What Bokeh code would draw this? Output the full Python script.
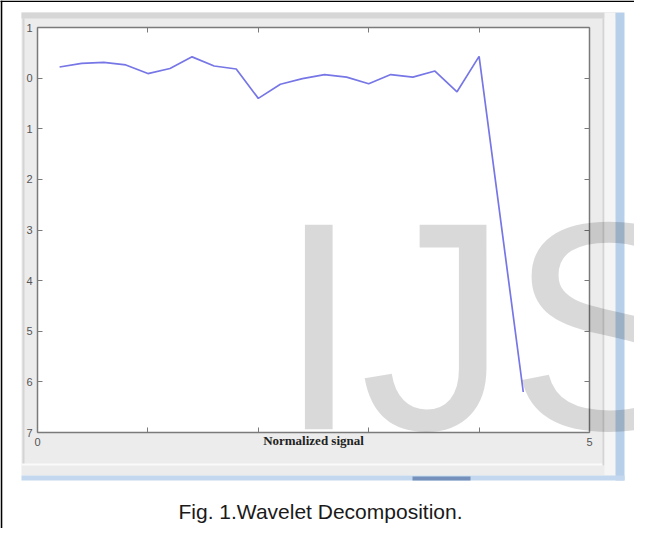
from bokeh.plotting import figure
from bokeh.models import FixedTicker, LinearAxis, Label, Range1d
from bokeh.embed import file_html
from bokeh.resources import INLINE

# ---- data ----
x_vals = [0.2, 0.4, 0.6, 0.8, 1.0, 1.2, 1.4, 1.6, 1.8, 2.0, 2.2,
          2.4, 2.6, 2.8, 3.0, 3.2, 3.4, 3.6, 3.8, 4.0, 4.4]
signal = [0.22, 0.29, 0.31, 0.26, 0.09, 0.19, 0.42, 0.24, 0.18, -0.40, -0.12,
          -0.01, 0.07, 0.02, -0.11, 0.07, 0.02, 0.14, -0.27, 0.43, -6.2]
x_ticks = [0, 1, 2, 3, 4, 5]
x_tick_labels = ["0", "", "", "", "", "5"]
y_ticks = [1, 0, -1, -2, -3, -4, -5, -6, -7]
y_tick_labels = ["1", "0", "1", "2", "3", "4", "5", "6", "7"]
x_title = "Normalized signal"
caption = "Fig. 1.Wavelet Decomposition."
watermark = "IJS"

# ---- layout (canvas pixels, y downwards) ----
W, H = 634, 528
OFF = 8                              # page margin: reference px - OFF = canvas px
FL, FT, FR, FB = 37, 27, 589, 432    # inner plot box on the canvas
AX = "#7a7a7a"
BASE_FIX = 0.375                     # baseline correction (fraction of font size)

x0, x1 = min(x_ticks), max(x_ticks)
y0, y1 = min(y_ticks), max(y_ticks)
sx = (FR - FL) / (x1 - x0)
sy = (FB - FT) / (y1 - y0)

p = figure(width=W, height=H, output_backend="svg", toolbar_location=None,
           x_range=Range1d(0, W), y_range=Range1d(H, 0),
           x_axis_type=None, y_axis_type=None,
           min_border=0, min_border_left=0, min_border_right=0,
           min_border_top=0, min_border_bottom=0,
           border_fill_color="white", background_fill_color="white",
           outline_line_color=None)
p.grid.visible = False
p.extra_x_ranges = {"sig": Range1d(x0 - FL / sx, x1 + (W - FR) / sx)}
p.extra_y_ranges = {"sig": Range1d(y0 - (H - FB) / sy, y1 + FT / sy)}


# ---- window decorations (reference pixel coords) ----
def ref_box(a, b, c, d, color):
    p.quad(left=[a - OFF], right=[c - OFF], top=[b - OFF], bottom=[d - OFF],
           fill_color=color, line_color=None)


ref_box(29, 20, 623, 483, "#ececec")      # window body
ref_box(29, 20, 623, 26, "#d6d6d6")       # top band
ref_box(30, 26, 32, 472, "#d4d4d4")       # left inner edge
ref_box(29, 471, 612, 473, "#fafafa")     # bottom highlight
ref_box(610, 26, 612, 473, "#d4d4d4")     # right inner edge
ref_box(612, 20, 623, 483, "#f5f5f5")
ref_box(623, 20, 632, 488, "#b7cfe8")     # blue right edge
ref_box(29, 483, 632, 488, "#c3d8ee")     # blue bottom edge
ref_box(420, 484, 478, 488, "#7591bb")
ref_box(FL + OFF, FT + OFF, FR + OFF, FB + OFF, "white")   # plot area
ref_box(0, 8, 660, 9.6, "black")          # page border top
ref_box(8, 8, 9.8, 560, "black")          # page border left

# ---- data line ----
p.line(x_vals, signal, x_range_name="sig", y_range_name="sig",
       line_color="#7676e6", line_width=1.7)


# ---- axes (inward ticks on all four sides) ----
def make_axis(side, ticks, labels, loc, bounds):
    ax = LinearAxis(x_range_name="sig", y_range_name="sig",
                    fixed_location=loc, bounds=bounds)
    ax.ticker = FixedTicker(ticks=ticks)
    ax.major_label_overrides = dict(zip(ticks, labels))
    ax.axis_line_color = AX
    ax.axis_line_width = 1.5
    ax.major_tick_line_color = AX
    ax.major_tick_in = 5
    ax.major_tick_out = 0
    ax.minor_tick_line_color = None
    ax.major_label_text_font = "Liberation Sans"
    ax.major_label_text_font_size = "11px"
    ax.major_label_text_color = "#555555"
    ax.major_label_standoff = 5
    p.add_layout(ax, side)
    return ax


make_axis("below", x_ticks, x_tick_labels, y0, (x0, x1))
make_axis("above", x_ticks, [""] * len(x_ticks), y1, (x0, x1))
make_axis("left", y_ticks, y_tick_labels, x0, (y0, y1))
make_axis("right", y_ticks, [""] * len(y_ticks), x1, (y0, y1))

# ---- texts ----
p.add_layout(Label(x=(FL + FR) / 2, y=448 - OFF, text=x_title,
                   text_align="center", text_baseline="middle",
                   text_font="Liberation Serif", text_font_style="bold",
                   text_font_size="13px", text_color="#222222"))

cap_fs = 21
p.add_layout(Label(x=328 - OFF, y=527 - OFF - BASE_FIX * cap_fs, text=caption,
                   text_align="center", text_baseline="alphabetic",
                   text_font="Liberation Sans", text_font_size=f"{cap_fs}px",
                   text_color="#1a1a1a"))

wm_fs = 297
p.add_layout(Label(x=285 - OFF, y=445 - OFF - BASE_FIX * wm_fs, text=watermark,
                   text_align="left", text_baseline="alphabetic",
                   text_font="Liberation Sans", text_font_size=f"{wm_fs}px",
                   text_color="black", text_alpha=0.15, level="overlay"))

open("out.html", "w").write(file_html(p, INLINE))
